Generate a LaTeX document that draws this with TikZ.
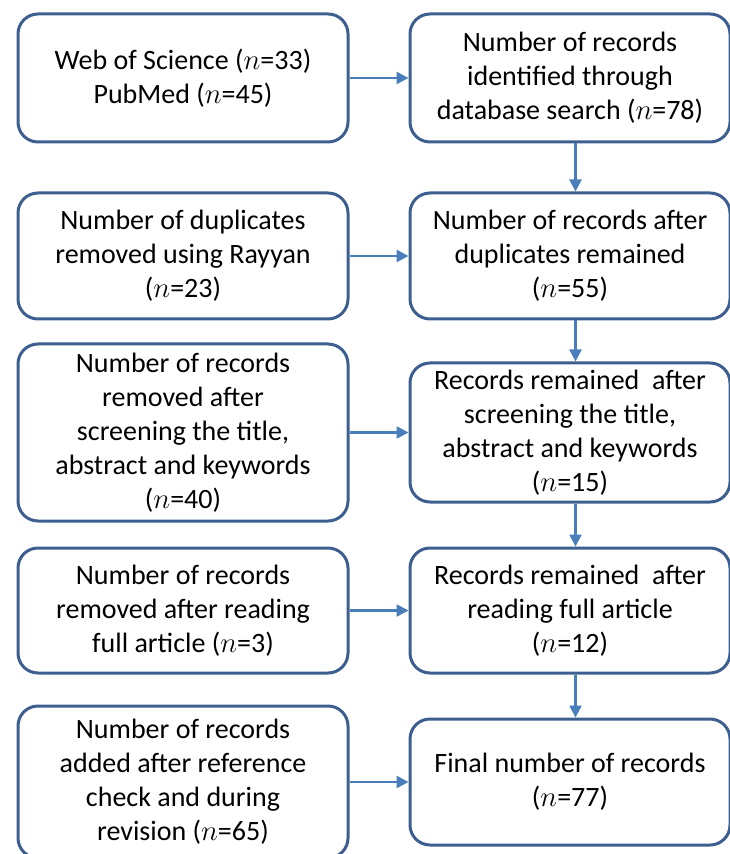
\documentclass[tikz,border=0pt]{standalone}
\usepackage{fontspec}
\setmainfont{Carlito}
\usepackage{xcolor}
\usetikzlibrary{arrows.meta,positioning}

\definecolor{boxblue}{HTML}{3D5F8F}
\definecolor{arrblue}{HTML}{4A7EBB}

\begin{document}
\begin{tikzpicture}[
  node distance=29.5pt,
  box/.style={draw=boxblue, line width=1.5pt, rounded corners=10pt, align=center,
    font=\fontsize{14}{17}\selectfont, inner sep=2pt},
  lbox/.style={box, minimum width=165pt},
  rbox/.style={box, minimum width=160pt},
  arr/.style={draw=arrblue, line width=1.2pt, -{Triangle[length=6pt,width=6pt]}}
]
\useasboundingbox (0,0) rectangle (364.5pt,-427pt);

% Left column
\node (search) [lbox, minimum height=64pt] at (91.5pt,-39pt) {Web of Science ($n$=33)\\PubMed ($n$=45)};
\node (dupl) [lbox, minimum height=63pt] at (91.5pt,-128pt) {Number of duplicates\\removed using Rayyan\\($n$=23)};
\node (screenout) [lbox, minimum height=88.5pt] at (91.5pt,-216.25pt) {Number of records\\removed after\\screening the title,\\abstract and keywords\\($n$=40)};
\node (fullout) [lbox, minimum height=62.5pt] at (91.5pt,-305.25pt) {Number of records\\removed after reading\\full article ($n$=3)};
\node (added) [lbox, minimum height=76pt] at (91.5pt,-391pt) {Number of records\\added after reference\\check and during\\revision ($n$=65)};

% Right column
\node (ident) [rbox, minimum height=64pt, right=of search] {Number of records\\identified through\\database search ($n$=78)};
\node (afterdupl) [rbox, minimum height=63pt, right=of dupl] {Number of records after\\duplicates remained\\($n$=55)};
\node (screened) [rbox, minimum height=69.5pt, right=of screenout] {Records remained~ after\\screening the title,\\abstract and keywords\\($n$=15)};
\node (fullread) [rbox, minimum height=62.5pt, right=of fullout] {Records remained~ after\\reading full article\\($n$=12)};
\node (final) [rbox, minimum height=63pt, right=of added] {Final number of records\\($n$=77)};

% Arrows across
\draw[arr] (search) -- (ident);
\draw[arr] (dupl) -- (afterdupl);
\draw[arr] (screenout) -- (screened);
\draw[arr] (fullout) -- (fullread);
\draw[arr] (added) -- (final);

% Arrows down
\draw[arr] ([xshift=2.75pt]ident.south) -- ([xshift=2.75pt]afterdupl.north);
\draw[arr] ([xshift=2.75pt]afterdupl.south) -- ([xshift=2.75pt]screened.north);
\draw[arr] ([xshift=2.75pt]screened.south) -- ([xshift=2.75pt]fullread.north);
\draw[arr] ([xshift=2.75pt]fullread.south) -- ([xshift=2.75pt]final.north);

\end{tikzpicture}
\end{document}
